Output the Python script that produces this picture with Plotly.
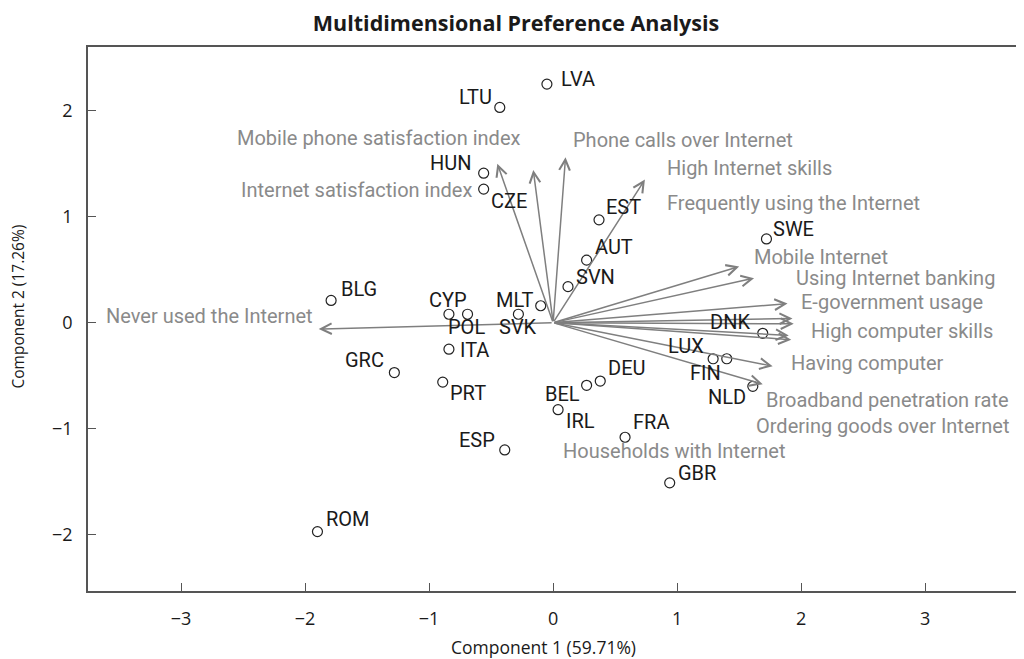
import plotly.graph_objects as go

# ---- data ----
countries = ["LVA", "LTU", "HUN", "CZE", "EST", "AUT", "SVN", "SWE", "MLT", "BLG",
             "CYP", "POL", "SVK", "ITA", "GRC", "PRT", "ESP", "ROM", "DNK", "LUX",
             "FIN", "NLD", "DEU", "BEL", "IRL", "FRA", "GBR"]
comp1 = [-0.05, -0.43, -0.56, -0.56, 0.37, 0.27, 0.12, 1.72, -0.10, -1.79,
         -0.84, -0.69, -0.28, -0.84, -1.28, -0.89, -0.39, -1.90, 1.69, 1.29,
         1.40, 1.61, 0.38, 0.27, 0.04, 0.58, 0.94]
comp2 = [2.25, 2.03, 1.41, 1.26, 0.97, 0.59, 0.34, 0.79, 0.16, 0.21,
         0.08, 0.08, 0.08, -0.25, -0.47, -0.56, -1.20, -1.97, -0.10, -0.34,
         -0.34, -0.60, -0.55, -0.59, -0.82, -1.08, -1.51]
# country label anchor positions and alignment
country_lab_x = [0.05, -0.48, -0.64, -0.52, 0.41, 0.32, 0.17, 1.76, -0.14, -1.73,
                 -0.85, -0.70, -0.28, -0.77, -1.35, -0.85, -0.45, -1.85, 1.60, 1.23,
                 1.09, 1.23, 0.43, 0.23, 0.09, 0.63, 0.99]
country_lab_y = [2.30, 2.13, 1.51, 1.15, 1.09, 0.71, 0.43, 0.88, 0.21, 0.32,
                 0.21, -0.04, -0.04, -0.26, -0.35, -0.66, -1.11, -1.85, 0.01, -0.22,
                 -0.47, -0.70, -0.43, -0.67, -0.93, -0.94, -1.42]
country_lab_align = ["left", "right", "right", "left", "left", "left", "left", "left", "right", "left",
                     "center", "center", "center", "left", "right", "left", "right", "left", "right", "right",
                     "left", "left", "left", "right", "left", "left", "left"]

variables = ["Never used the Internet", "Mobile phone satisfaction index",
             "Internet satisfaction index", "Phone calls over Internet",
             "High Internet skills", "Frequently using the Internet", "Mobile Internet",
             "Using Internet banking", "E-government usage", "High computer skills",
             "Having computer", "Broadband penetration rate",
             "Ordering goods over Internet", "Households with Internet"]
load1 = [-1.89, -0.45, -0.16, 0.10, 0.74, 1.93, 1.50, 1.62, 1.89, 1.94, 1.77, 1.69, 1.90, 1.92]
load2 = [-0.06, 1.50, 1.44, 1.56, 1.35, 0.04, 0.53, 0.42, 0.18, -0.01, -0.41, -0.58, -0.12, -0.16]
var_lab_x = [-3.62, -0.25, -0.64, 0.145, 0.90, 0.90, 1.60, 1.94, 1.98, 2.06, 1.90, 1.70, 1.62, 0.065]
var_lab_y = [0.06, 1.74, 1.25, 1.72, 1.46, 1.13, 0.62, 0.42, 0.20, -0.075, -0.38, -0.73, -0.97, -1.21]
var_lab_align = ["left", "right", "right", "left", "left", "left", "left", "left", "left", "left",
                 "left", "left", "left", "left"]

x_ticks = [-3, -2, -1, 0, 1, 2, 3]
y_ticks = [-2, -1, 0, 1, 2]
x_tick_text = ["\u22123", "\u22122", "\u22121", "0", "1", "2", "3"]
y_tick_text = ["\u22122", "\u22121", "0", "1", "2"]

ARROW_COL = "#7f7f7f"
VAR_COL = "#8a8a8a"
TXT_COL = "#1a1a1a"

fig = go.Figure()
fig.add_trace(go.Scatter(
    x=comp1, y=comp2, mode="markers",
    marker=dict(symbol="circle-open", size=10, color="#222222", line=dict(width=1.2)),
    showlegend=False, hoverinfo="text", text=countries))

ann = []
for vx, vy in zip(load1, load2):
    ann.append(dict(x=vx, y=vy, ax=0, ay=0, xref="x", yref="y", axref="x", ayref="y",
                    showarrow=True, arrowhead=5, arrowsize=1.4, arrowwidth=1.5,
                    arrowcolor=ARROW_COL, text=""))
for name, lx, ly, al in zip(variables, var_lab_x, var_lab_y, var_lab_align):
    ann.append(dict(x=lx, y=ly, xref="x", yref="y", text=name, showarrow=False,
                    xanchor=al, yanchor="middle",
                    font=dict(family="Roboto", size=20, color=VAR_COL)))
for name, lx, ly, al in zip(countries, country_lab_x, country_lab_y, country_lab_align):
    ann.append(dict(x=lx, y=ly, xref="x", yref="y", text=name, showarrow=False,
                    xanchor=al, yanchor="middle",
                    font=dict(family="Roboto", size=20, color=TXT_COL)))
# axis titles
ann.append(dict(x=0.49, y=0, xref="paper", yref="paper", yshift=-56, showarrow=False,
                xanchor="center", yanchor="middle", text="Component 1 (59.71%)",
                font=dict(family="Open Sans", size=17.5, color=TXT_COL)))
ann.append(dict(x=0, y=0.522, xref="paper", yref="paper", xshift=-69.5, showarrow=False,
                xanchor="center", yanchor="middle", textangle=-90, text="Component 2 (17.26%)",
                font=dict(family="Open Sans", size=15.5, color=TXT_COL)))

fig.update_layout(
    width=1016, height=651,
    margin=dict(l=80, r=7, t=39, b=68),
    paper_bgcolor="white", plot_bgcolor="white",
    title=dict(text="<b>Multidimensional Preference Analysis</b>", x=0.5, xanchor="center",
               y=1 - 15 / 651, yanchor="middle",
               font=dict(family="Open Sans", size=21.5, color="#1a1a1a")),
    annotations=ann,
    font=dict(family="Open Sans", size=18, color="#1a1a1a"),
)
fig.update_xaxes(range=[-3.75, 3.74], tickvals=x_ticks, ticktext=x_tick_text,
                 ticks="inside", ticklen=8, tickcolor="#555555", showgrid=False, zeroline=False,
                 showline=True, linecolor="#555555", linewidth=1.5, mirror=True,
                 automargin=False, ticklabelstandoff=11,
                 tickfont=dict(family="Open Sans", size=18))
fig.update_yaxes(range=[-2.53, 2.60], tickvals=y_ticks, ticktext=y_tick_text,
                 ticks="inside", ticklen=8, tickcolor="#555555", showgrid=False, zeroline=False,
                 showline=True, linecolor="#555555", linewidth=1.5, mirror=True,
                 automargin=False, ticklabelstandoff=10,
                 tickfont=dict(family="Open Sans", size=18))

fig.write_html("out.html")
